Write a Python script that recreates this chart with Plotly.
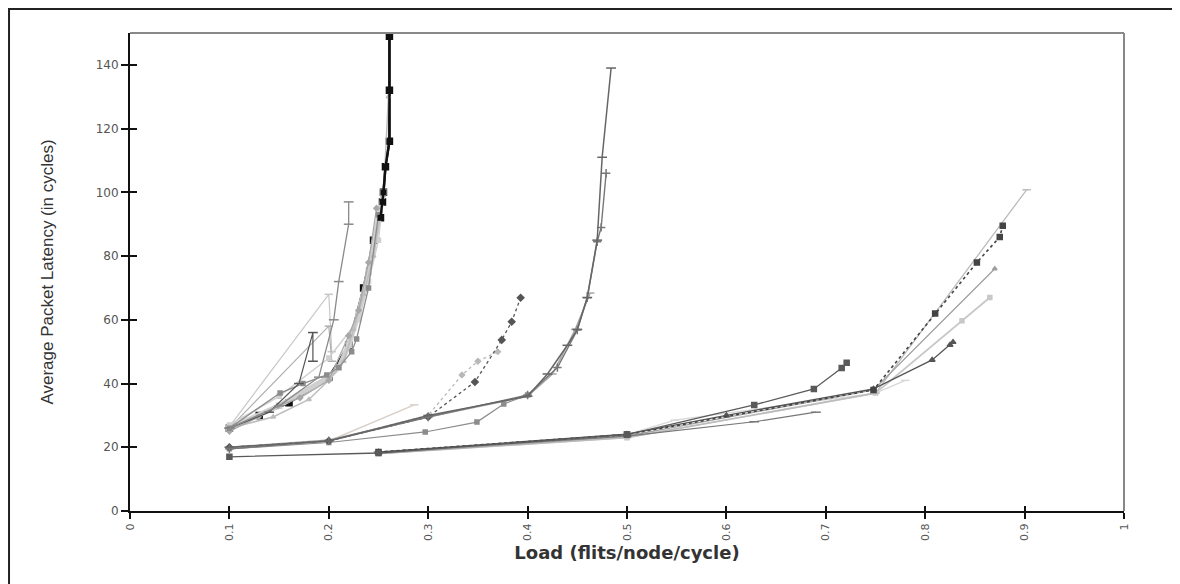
import plotly.graph_objects as go

# ---------------- data ----------------
x_ticks = [0, 0.1, 0.2, 0.3, 0.4, 0.5, 0.6, 0.7, 0.8, 0.9, 1]
x_tick_labels = ["0", "0.1", "0.2", "0.3", "0.4", "0.5", "0.6", "0.7", "0.8", "0.9", "1"]
y_ticks = [0, 20, 40, 60, 80, 100, 120, 140]
y_tick_labels = ["0", "20", "40", "60", "80", "100", "120", "140"]

# cluster A (saturating near 0.2-0.26)
a1_x = [0.1, 0.13, 0.16, 0.2, 0.22, 0.235, 0.245, 0.252, 0.254, 0.255, 0.257, 0.261, 0.261, 0.261]
a1_y = [26, 30, 34, 42, 52, 70, 85, 92, 97, 100, 108, 116, 132, 149]
band_x = [0.1, 0.15, 0.2, 0.21, 0.22, 0.23, 0.24, 0.248, 0.255]
band_y = [26, 33, 42, 45, 52, 62, 75, 88, 100]
a2_x = [0.1, 0.15, 0.19, 0.205, 0.21, 0.22, 0.22]
a2_y = [26, 33, 42, 60, 72, 90, 97]
a3_x = [0.1, 0.2, 0.203]
a3_y = [26.5, 68, 50]
a4_x = [0.1, 0.14, 0.17, 0.184, 0.184]
a4_y = [26, 31, 40, 56, 47]
a5_x = [0.1, 0.2, 0.203]
a5_y = [26, 58, 47]
a6_x = [0.1, 0.151, 0.174, 0.198, 0.21, 0.223, 0.228, 0.24, 0.25]
a6_y = [26, 37, 40, 42.7, 45, 50, 54, 70, 93]
a7_x = [0.1, 0.129, 0.149, 0.171, 0.2, 0.22, 0.23, 0.24, 0.248]
a7_y = [25, 29.5, 33, 35.5, 41, 55, 63, 78, 95]
a8_x = [0.1, 0.144, 0.18, 0.2, 0.215, 0.225, 0.235, 0.245, 0.255, 0.26]
a8_y = [26, 29.5, 35, 41, 47, 57, 68, 80, 99, 130]
a9_x = [0.1, 0.15, 0.2, 0.23, 0.24, 0.25, 0.255]
a9_y = [27, 36, 48, 60, 72, 85, 100]

# cluster B (saturating near 0.4-0.48)
b1_x = [0.1, 0.2, 0.3, 0.4, 0.42, 0.44, 0.45, 0.46, 0.47, 0.475, 0.484]
b1_y = [20, 22, 30, 36, 43, 52, 57, 67, 85, 111, 139]
b2_x = [0.1, 0.2, 0.3, 0.4, 0.43, 0.45, 0.46, 0.47, 0.474, 0.479]
b2_y = [19.5, 22, 29.5, 36.4, 45, 56.8, 66.9, 84.5, 89, 106]
b3_x = [0.1, 0.2, 0.3, 0.4, 0.425, 0.448, 0.463]
b3_y = [20, 22.3, 29.5, 36, 43, 57, 68.4]
b4_x = [0.1, 0.2, 0.3, 0.347, 0.374, 0.384, 0.393]
b4_y = [20, 22, 29.5, 40.5, 53.7, 59.4, 66.9]
b5_x = [0.1, 0.2, 0.3, 0.334, 0.35, 0.37]
b5_y = [20, 22, 30, 42.7, 47, 50]
b6_x = [0.1, 0.2, 0.286]
b6_y = [19.5, 22, 33.3]
b7_x = [0.1, 0.2, 0.297, 0.349, 0.376, 0.4]
b7_y = [19.5, 21.5, 24.8, 27.9, 33.6, 36.4]

# cluster C (saturating near 0.7-0.9)
c1_x = [0.1, 0.25, 0.5, 0.628, 0.688, 0.716, 0.721]
c1_y = [17, 18.2, 24, 33.3, 38.3, 44.9, 46.5]
c2_x = [0.25, 0.5, 0.628, 0.69]
c2_y = [18.5, 23.5, 28, 31]
c3_x = [0.25, 0.5, 0.6, 0.748, 0.807, 0.825, 0.828]
c3_y = [18.5, 24.1, 30, 38.3, 47.4, 52.1, 53]
c4_x = [0.25, 0.5, 0.748, 0.81, 0.852, 0.875, 0.878]
c4_y = [18.5, 24, 38, 62, 78, 86, 89.5]
c5_x = [0.25, 0.5, 0.748, 0.87]
c5_y = [18, 23.5, 38, 76]
c6_x = [0.25, 0.5, 0.75, 0.902]
c6_y = [18, 23, 37, 100.8]
c7_x = [0.25, 0.5, 0.75, 0.837, 0.865]
c7_y = [18, 23, 37, 59.7, 67]
c8_x = [0.25, 0.5, 0.548, 0.75, 0.78]
c8_y = [18, 24, 28.5, 37, 41]

x_title = "Load (flits/node/cycle)"
y_title = "Average Packet Latency (in cycles)"

# ---------------- figure ----------------
# (x, y, colour, line width, marker symbol, marker size, dash)
series = [
    (a1_x, a1_y, "#111111", 2.4, "square", 6, "solid"),
    (band_x, band_y, "#cfcfcf", 5, "square", 5, "solid"),
    (a3_x, a3_y, "#c8c8c8", 1.2, "line-ew", 6, "solid"),
    (a5_x, a5_y, "#b0b0b0", 1.2, "line-ew", 6, "solid"),
    (a9_x, a9_y, "#d0d0d0", 1.5, "square", 4, "solid"),
    (a8_x, a8_y, "#bdbdbd", 1.5, "triangle-up", 4, "solid"),
    (a7_x, a7_y, "#a8a8a8", 1.3, "diamond", 4, "solid"),
    (a6_x, a6_y, "#8c8c8c", 1.3, "square", 4, "solid"),
    (a4_x, a4_y, "#555555", 1.2, "line-ew", 7, "solid"),
    (a2_x, a2_y, "#8a8a8a", 1.3, "line-ew", 7, "solid"),
    (b6_x, b6_y, "#d8d0c8", 1.5, "line-ew", 6, "solid"),
    (b5_x, b5_y, "#b8b8b8", 1.3, "diamond", 4, "dot"),
    (b7_x, b7_y, "#8c8c8c", 1.2, "square", 4, "solid"),
    (b3_x, b3_y, "#a8a8a8", 1.5, "line-ew", 6, "solid"),
    (b4_x, b4_y, "#555555", 1.3, "diamond", 5, "dot"),
    (b2_x, b2_y, "#777777", 1.4, "cross-thin", 6, "solid"),
    (b1_x, b1_y, "#666666", 1.5, "line-ew", 7, "solid"),
    (c8_x, c8_y, "#d8d8d8", 1.3, "line-ew", 6, "solid"),
    (c7_x, c7_y, "#c8c8c8", 1.8, "square", 4, "solid"),
    (c6_x, c6_y, "#bbbbbb", 1.3, "line-ew", 6, "solid"),
    (c5_x, c5_y, "#a0a0a0", 1.3, "triangle-up", 4, "solid"),
    (c2_x, c2_y, "#777777", 1.2, "line-ew", 7, "solid"),
    (c3_x, c3_y, "#555555", 1.3, "triangle-up", 5, "solid"),
    (c4_x, c4_y, "#444444", 1.6, "square", 5, "dot"),
    (c1_x, c1_y, "#5a5a5a", 1.3, "square", 5, "solid"),
]

fig = go.Figure()
for xs, ys, col, lw, sym, ms, dash in series:
    fig.add_trace(go.Scatter(
        x=xs, y=ys, mode="lines+markers",
        line=dict(color=col, width=lw, dash=dash),
        marker=dict(color=col, symbol=sym, size=ms,
                    line=dict(color=col, width=1.5)),
        showlegend=False, hoverinfo="skip",
    ))

# redraw upper part of the black series on top
fig.add_trace(go.Scatter(
    x=a1_x[7:], y=a1_y[7:], mode="lines+markers",
    line=dict(color="#111111", width=2.4),
    marker=dict(color="#111111", symbol="square", size=6),
    showlegend=False, hoverinfo="skip",
))

# invisible trace on overlay axes for inner half of cross ticks
fig.add_trace(go.Scatter(x=[0], y=[0], xaxis="x2", yaxis="y2",
                         mode="markers", marker=dict(opacity=0),
                         showlegend=False, hoverinfo="skip"))

tick_font = dict(family="DejaVu Sans, Liberation Sans, sans-serif", size=11, color="#555555")

# page body has an 8px margin; plot area on screen: x 130..1124, y 33..511
fig.update_layout(
    width=1180, height=584,
    margin=dict(l=122, r=64, t=25, b=81),
    paper_bgcolor="white", plot_bgcolor="white",
    xaxis=dict(
        range=[0, 1], tickvals=x_ticks, ticktext=x_tick_labels,
        tickangle=-90, tickfont=tick_font,
        ticks="outside", ticklen=6, tickwidth=2, tickcolor="#111111",
        showline=True, linecolor="#111111", linewidth=2,
        showgrid=False, zeroline=False,
        title=dict(text=x_title, standoff=6,
                   font=dict(family="DejaVu Sans, Liberation Sans, sans-serif",
                             size=18, color="#333333", weight="bold")),
    ),
    yaxis=dict(
        range=[0, 150], tickvals=y_ticks, ticktext=y_tick_labels,
        tickfont=dict(family="DejaVu Sans, Liberation Sans, sans-serif", size=12, color="#555555"),
        ticks="outside", ticklen=7, tickwidth=2, tickcolor="#111111",
        showline=True, linecolor="#111111", linewidth=2,
        showgrid=False, zeroline=False,
        title=dict(text=y_title, standoff=38,
                   font=dict(family="Liberation Sans, Arial, sans-serif",
                             size=17, color="#333333")),
    ),
    xaxis2=dict(range=[0, 1], overlaying="x", tickvals=x_ticks,
                showticklabels=False, ticks="inside", ticklen=5,
                tickwidth=2, tickcolor="#111111", showgrid=False,
                zeroline=False, showline=False, anchor="y2", side="bottom"),
    yaxis2=dict(range=[0, 150], overlaying="y", tickvals=y_ticks,
                showticklabels=False, ticks="inside", ticklen=7,
                tickwidth=2, tickcolor="#111111", showgrid=False,
                zeroline=False, showline=False, anchor="x2", side="left"),
    shapes=[
        dict(type="line", xref="paper", yref="paper", x0=0, x1=1, y0=1, y1=1,
             line=dict(color="#888888", width=2)),
        dict(type="line", xref="paper", yref="paper", x0=1, x1=1, y0=0, y1=1,
             line=dict(color="#888888", width=2)),
        dict(type="rect", xref="paper", yref="paper",
             x0=-0.1217, x1=1.2, y0=-0.3, y1=1.0502,
             line=dict(color="#222222", width=2), layer="below"),
    ],
)

fig.write_html("out.html")
